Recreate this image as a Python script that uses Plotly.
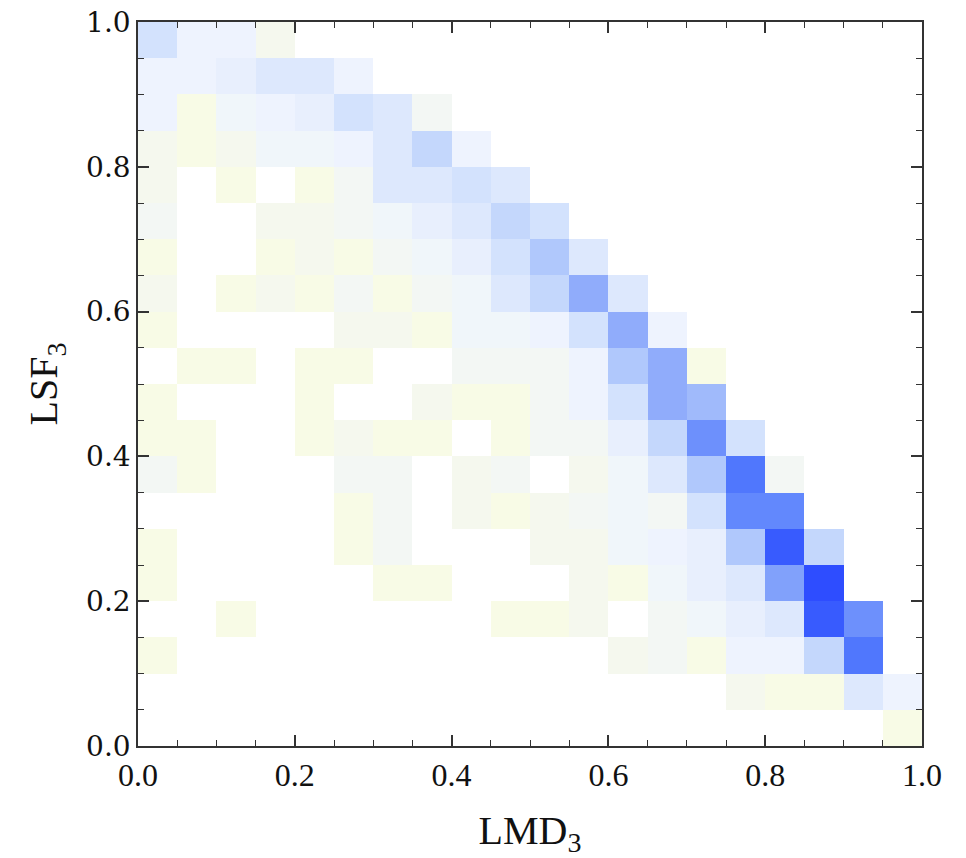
import plotly.graph_objects as go

# bin centres (LMD3 on x, LSF3 on y), 20 bins of width 0.05
x_centers = [round(0.025 + 0.05 * i, 3) for i in range(20)]
y_centers = [round(0.025 + 0.05 * j, 3) for j in range(20)]

# estimated density level per bin, rows from bottom (LSF3=0) to top (LSF3=1); 0 = empty
counts = [
    [0,0,0,0,0,0,0,0,0,0,0,0,0,0,0,0,0,0,0,1],
    [0,0,0,0,0,0,0,0,0,0,0,0,0,0,0,2,1,1,7,5],
    [1,0,0,0,0,0,0,0,0,0,0,0,2,3,1,5,5,9,16,0],
    [0,0,1,0,0,0,0,0,0,1,1,2,0,3,4,6,7,17,14,0],
    [1,0,0,0,0,0,1,1,0,0,0,2,1,4,6,7,13,18,0,0],
    [1,0,0,0,0,1,3,0,0,0,2,2,4,5,6,10,17,9,0,0],
    [0,0,0,0,0,1,3,0,2,1,2,3,4,3,8,15,15,0,0,0],
    [3,1,0,0,0,3,3,0,2,3,0,2,4,7,10,16,3,0,0,0],
    [1,1,0,0,1,2,1,1,0,1,3,3,6,9,14,8,0,0,0,0],
    [1,0,0,0,1,0,0,2,1,1,3,5,8,12,11,0,0,0,0,0],
    [0,1,1,0,1,1,0,0,3,3,3,5,10,12,1,0,0,0,0,0],
    [1,0,0,0,0,2,2,1,4,4,5,8,12,5,0,0,0,0,0,0],
    [2,0,1,2,1,3,1,3,4,7,9,12,7,0,0,0,0,0,0,0],
    [1,0,0,1,2,1,3,4,6,8,10,7,0,0,0,0,0,0,0,0],
    [3,0,0,2,2,3,4,6,7,9,8,0,0,0,0,0,0,0,0,0],
    [2,0,1,0,1,3,7,7,8,7,0,0,0,0,0,0,0,0,0,0],
    [2,1,2,4,4,5,7,9,5,0,0,0,0,0,0,0,0,0,0,0],
    [5,1,4,5,6,8,7,3,0,0,0,0,0,0,0,0,0,0,0,0],
    [5,5,6,7,7,5,0,0,0,0,0,0,0,0,0,0,0,0,0,0],
    [8,5,5,2,0,0,0,0,0,0,0,0,0,0,0,0,0,0,0,0],
]

level_colors = [
    "#f8fbe6", "#f5f8ee", "#f3f7f4", "#f0f6fa", "#eef3fe", "#e8effd",
    "#dde8fd", "#d3e2fd", "#c4d7fc", "#b0c8fc", "#a0bafb", "#90acfb",
    "#81a1fb", "#6d90fc", "#6288fd", "#5077fd", "#385bfe", "#2e4dff",
]

x_tick_vals = [0.0, 0.2, 0.4, 0.6, 0.8, 1.0]
x_tick_text = ["0.0", "0.2", "0.4", "0.6", "0.8", "1.0"]
y_tick_vals = [0.0, 0.2, 0.4, 0.6, 0.8, 1.0]
y_tick_text = ["0.0", "0.2", "0.4", "0.6", "0.8", "1.0"]

n = len(level_colors)
colorscale = [[k / (n - 1), c] for k, c in enumerate(level_colors)]
z = [[(v if v > 0 else None) for v in row] for row in counts]

fig = go.Figure(go.Heatmap(
    x=x_centers, y=y_centers, z=z,
    colorscale=colorscale, zmin=1, zmax=n,
    showscale=False, xgap=0, ygap=0, hoverongaps=False,
))

axis_common = dict(
    showgrid=False, zeroline=False, showline=True, linecolor="#333333",
    linewidth=1.5, mirror="ticks", ticks="inside", ticklen=11,
    tickcolor="#333333", tickwidth=1.5,
    minor=dict(ticks="inside", ticklen=6, dtick=0.05, tickcolor="#333333",
               tickwidth=1.2, showgrid=False),
)

fig.update_xaxes(
    range=[0, 1], tickvals=x_tick_vals, ticktext=x_tick_text,
    tickfont=dict(family="Liberation Serif", size=32, color="#111111"),
    title=dict(text="LMD<sub>3</sub>", standoff=36,
               font=dict(family="Liberation Serif", size=40, color="#111111")),
    **axis_common,
)
fig.update_yaxes(
    range=[0, 1], tickvals=y_tick_vals, ticktext=y_tick_text,
    tickfont=dict(family="DejaVu Serif", size=28, color="#111111"),
    title=dict(text="LSF<sub>3</sub>", standoff=16,
               font=dict(family="Liberation Serif", size=40, color="#111111")),
    **axis_common,
)

fig.update_layout(
    width=966, height=858,
    margin=dict(l=138, r=44, t=22, b=112, autoexpand=False),
    paper_bgcolor="white", plot_bgcolor="white",
)

fig.write_html("out.html")
